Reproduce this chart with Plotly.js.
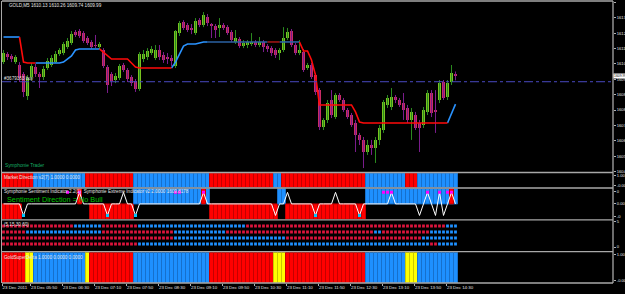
<!DOCTYPE html>
<html><head><meta charset="utf-8">
<script src="https://cdn.plot.ly/plotly-3.0.1.min.js"></script>
<style>html,body{margin:0;padding:0;background:#000;overflow:hidden;}#chart{width:625px;height:294px;}</style>
</head><body><div id="chart"></div>
<script>
// ---------------- DATA ----------------
const openP = [1610.81,1611.28,1611.17,1610.81,1610.64,1610.11,1608.82,1609.94,1610.52,1610.11,
1609.94,1610.46,1610.64,1610.81,1611.28,1611.34,1611.69,1611.93,1612.57,1612.63,
1612.51,1612.22,1611.99,1611.81,1611.69,1611.52,1610.52,1610.11,1609.76,1609.88,
1610.64,1610.35,1609.94,1609.70,1609.23,1610.99,1611.11,1611.34,1611.05,1611.52,
1611.22,1611.11,1611.05,1610.58,1612.51,1613.16,1612.98,1612.81,1612.51,1613.27,
1612.98,1613.45,1613.04,1612.92,1612.81,1612.98,1612.86,1612.57,1611.99,1612.16,
1611.75,1611.81,1611.87,1611.99,1611.81,1611.99,1611.75,1611.63,1611.52,1611.34,
1611.52,1612.22,1612.63,1611.81,1611.34,1611.40,1610.46,1610.64,1610.05,1609.17,
1607.01,1607.42,1608.59,1607.59,1608.88,1608.59,1608.00,1607.71,1607.24,1606.54,
1606.25,1605.54,1605.95,1605.78,1606.25,1606.83,1608.30,1608.18,1608.76,1608.59,
1608.41,1608.12,1607.42,1607.71,1607.24,1607.12,1607.89,1609.00,1608.00,1608.59,
1609.64,1608.76,1609.64,1610.13];
const highP = [1611.52,1611.40,1611.28,1611.22,1610.81,1610.23,1610.05,1610.76,1610.70,1610.23,
1610.58,1611.05,1611.22,1611.46,1611.63,1611.99,1612.22,1612.63,1612.69,1612.75,
1612.63,1612.34,1612.10,1612.40,1611.99,1611.63,1610.64,1610.23,1610.17,1610.70,
1610.76,1610.46,1610.05,1609.82,1611.40,1611.52,1611.63,1611.75,1611.81,1611.81,
1611.40,1611.34,1611.22,1612.69,1613.22,1613.27,1613.10,1613.04,1613.39,1613.39,
1613.74,1613.63,1613.10,1613.04,1613.39,1613.10,1612.98,1612.69,1612.69,1612.28,
1612.10,1612.10,1612.51,1612.10,1612.28,1612.10,1611.87,1611.75,1611.63,1611.63,
1612.86,1612.81,1612.75,1611.93,1612.10,1611.58,1610.76,1610.76,1610.17,1609.29,
1607.53,1608.59,1609.17,1609.00,1609.00,1608.71,1608.12,1607.83,1607.42,1606.66,
1606.42,1606.25,1606.25,1606.42,1607.12,1608.59,1608.88,1609.29,1608.88,1608.71,
1609.00,1608.30,1608.12,1607.89,1607.42,1608.18,1609.17,1609.17,1609.17,1609.76,
1609.76,1609.76,1610.64,1610.26];
const lowP = [1610.70,1610.93,1610.81,1610.70,1609.64,1608.76,1608.59,1609.76,1609.94,1609.29,
1609.76,1610.35,1610.52,1610.76,1611.17,1611.22,1611.58,1611.81,1612.28,1612.22,
1611.93,1611.81,1611.58,1611.63,1611.58,1610.46,1609.00,1609.41,1609.58,1609.76,
1610.23,1609.64,1609.41,1609.06,1609.12,1610.81,1610.93,1611.22,1610.93,1610.93,
1610.76,1610.70,1610.58,1610.46,1612.34,1612.69,1612.57,1612.45,1612.40,1612.86,
1612.86,1612.92,1612.22,1612.22,1612.28,1612.69,1612.40,1611.99,1611.87,1611.63,
1611.63,1611.63,1611.75,1611.69,1611.69,1611.40,1611.40,1611.17,1611.05,1610.93,
1611.40,1612.10,1611.69,1611.22,1611.22,1610.23,1610.35,1609.82,1608.88,1606.83,
1606.83,1607.24,1607.53,1607.48,1608.47,1607.89,1607.48,1607.01,1605.54,1605.95,
1604.60,1605.37,1605.37,1604.90,1605.95,1606.66,1608.12,1608.00,1608.41,1608.18,
1607.42,1607.24,1606.25,1606.83,1605.54,1606.95,1607.71,1607.59,1606.66,1608.41,
1608.59,1608.59,1609.47,1609.74];
const closeP = [1611.34,1611.11,1610.99,1611.11,1609.88,1609.06,1609.88,1610.58,1610.11,1609.94,
1610.40,1610.87,1611.05,1611.28,1611.52,1611.87,1612.04,1612.45,1612.40,1612.34,
1612.04,1611.93,1611.69,1611.75,1611.87,1610.58,1609.47,1609.70,1609.99,1610.58,
1610.35,1609.82,1609.58,1609.23,1611.28,1611.28,1611.46,1611.58,1611.52,1611.11,
1610.93,1610.99,1610.87,1612.63,1613.10,1612.81,1612.69,1612.69,1613.22,1612.98,
1613.57,1613.10,1612.92,1612.69,1612.98,1612.81,1612.51,1612.10,1612.22,1611.75,
1611.93,1611.99,1611.99,1611.81,1611.99,1611.69,1611.58,1611.34,1611.22,1611.52,
1612.22,1612.57,1611.81,1611.34,1611.52,1610.35,1610.64,1609.94,1609.06,1607.01,
1607.42,1608.41,1607.71,1608.88,1608.59,1608.00,1607.59,1607.12,1606.54,1606.25,
1605.54,1605.95,1605.78,1606.25,1606.95,1608.47,1608.71,1608.76,1608.59,1608.30,
1608.00,1607.42,1607.89,1606.95,1606.95,1608.00,1609.00,1607.83,1607.89,1609.58,
1608.71,1609.58,1610.17,1609.99];

const _ = null;
const traderUp = [1612.28,1612.28,1612.28,1612.28,1612.28,_,_,_,1610.76,1610.76,
1610.76,1610.76,1610.76,1610.76,1610.76,1610.81,1610.99,1611.17,1611.52,1611.58,
1611.58,1611.58,1611.58,1611.58,1611.58,_,_,_,_,_,
_,_,_,_,_,_,_,_,_,_,
_,_,1610.46,1610.81,1611.28,1611.75,1611.87,1611.87,1611.87,1611.93,
1611.99,1611.99,_,_,_,_,_,_,_,_,
_,_,_,_,_,_,_,_,_,_,
_,_,_,_,_,_,_,_,_,_,
_,_,_,_,_,_,_,_,_,_,
_,_,_,_,_,_,_,_,_,_,
_,_,_,_,_,_,_,_,_,_,
_,1607.24,1607.83,1608.35];
const traderDn = [_,_,_,_,1612.28,1610.81,1610.76,1610.76,1610.76,_,
_,_,_,_,_,_,_,_,_,_,
_,_,_,_,1611.58,1611.40,1611.17,1610.99,1610.99,1610.99,
1610.99,1610.99,1610.76,1610.52,1610.46,1610.46,1610.46,1610.46,1610.46,1610.46,
1610.46,1610.46,1610.46,_,_,_,_,_,_,_,
_,_,_,_,_,_,_,_,_,_,
_,_,_,_,_,_,_,_,_,_,
_,_,_,_,1611.99,1611.46,1611.46,1610.93,1610.05,1608.30,
1608.30,1608.30,1608.30,1608.30,1608.30,1608.30,1608.30,1608.30,1607.89,1607.30,
1607.24,1607.24,1607.24,1607.24,1607.24,1607.24,1607.24,1607.24,1607.24,1607.24,
1607.24,1607.24,1607.24,1607.24,1607.24,1607.24,1607.24,1607.24,1607.24,1607.24,
1607.24,1607.24,_,_];
const traderUpDim = [_,_,_,_,_,_,_,_,_,_,
_,_,_,_,_,_,_,_,_,_,
_,_,_,_,_,_,_,_,_,_,
_,_,_,_,_,_,_,_,_,_,
_,_,_,_,_,_,_,_,_,_,
_,1611.99,1611.99,1611.99,1611.99,1611.99,1611.99,1611.99,1611.99,1611.99,
1611.99,1611.99,1611.99,1611.99,1611.99,1611.99,1611.99,_,_,1611.99,
1611.99,1611.99,1611.99,1611.99,1611.99,_,_,_,_,_,
_,_,_,_,_,_,_,_,_,_,
_,_,_,_,_,_,_,_,_,_,
_,_,_,_,_,_,_,_,_,_,
_,_,_,_];
const traderDnDim = [_,_,_,_,_,_,_,_,_,_,
_,_,_,_,_,_,_,_,_,_,
_,_,_,_,_,_,_,_,_,_,
_,_,_,_,_,_,_,_,_,_,
_,_,_,_,_,_,_,_,_,_,
_,_,_,_,_,_,_,_,_,_,
_,_,_,_,_,_,1611.99,1611.99,1611.99,1611.99,
_,_,_,_,_,_,_,_,_,_,
_,_,_,_,_,_,_,_,_,_,
_,_,_,_,_,_,_,_,_,_,
_,_,_,_,_,_,_,_,_,_,
_,_,_,_];

const orderPrice = 1609.66;
const priceTicks = [1614.30,1613.40,1612.50,1611.60,1610.70,1609.80,1608.90,1608.00,1607.10,1606.20,1605.30,1604.40];

// Market Direction: 1 = blue, 0 = red
const marketDir = [0,0,0,0,0,0,0,0,1,1, 1,1,1,1,1,1,1,1,1,1, 1,0,0,0,0,0,0,0,0,0,
0,0,0,1,1,1,1,1,1,1, 1,1,1,1,1,1,1,1,1,1, 1,1,0,0,0,0,0,0,0,0,
0,0,0,0,0,0,0,0,1,1, 0,0,0,0,0,0,0,0,0,0, 0,0,0,0,0,0,0,0,0,0,
0,1,1,1,1,1,1,1,1,1, 1,0,0,0,1,1,1,1,1,1, 1,1,1,1];
// Sentiment histogram: +1 blue up, -1 red down, 0 none
const sentiment = [-1,-1,-1,-1,-1,0,0,0,0,0, 0,0,0,0,0,0,0,0,0,0, 0,0,-1,-1,-1,-1,-1,-1,-1,-1,
-1,-1,-1,1,1,1,1,1,1,1, 1,1,1,1,1,1,1,1,1,1, 1,1,-1,-1,-1,-1,-1,-1,-1,-1,
-1,-1,-1,-1,-1,-1,-1,-1,-1,1, 1,-1,-1,-1,-1,-1,-1,-1,-1,-1, -1,-1,-1,-1,-1,-1,-1,-1,-1,-1,
-1,1,1,1,1,1,1,1,1,1, 1,1,1,1,1,1,1,1,1,1, 1,1,1,1];
const extremeRed = [0,0,0,0,0,0,0,0,0,0, 0,0,0,0,0,0,0,0,0,1, 0,0,0,0,0,0,0,0,0,0,
0,0,0,0,0,0,0,0,0,0, 0,0,0,0,0,0,0,0,0,0, 1,0,0,0,0,0,0,0,0,0,
0,0,0,0,0,0,0,0,0,0, 0,0,0,0,0,0,0,0,0,0, 0,0,0,0,0,0,0,0,0,0,
0,0,0,0,0,0,0,0,0,0, 0,0,0,0,0,0,0,0,0,0, 0,0,1,0];
const extremeLine = [0,0,0,0,0,-0.75,0,0,0,0, 0,0,0,0,0,0,0,0,0,0.75, 0,0,0,0,0,0,-0.75,0,0,0,
0.75,0,0,-0.75,0,0,0,0,0,0, 0,0,0,0,0,0,0,0,0,0, 0.75,0,0,0,0,0,0,0,0,0,
0,0,0,0,0,0,0,0,-0.75,0, 0,0.75,0,0,0,0,0,0,-0.75,0, 0,0,0,0.75,0,0,0,0,0,-0.75,
0,0,0,0,0,0,0,0.75,0,0, 0,0,0,0,-0.75,0,0.75,0,-0.75,0.75, -0.75,0,0.75,0];
const extremeTop = [16,19,43,44,50,95,96,97,106,109,111,112];
const extremeBottom = [5,26,33,78,89];

// Multi-timeframe dots (5,15,30,60): 1 = blue, 0 = red
const dotsM5 = [0,0,0,0,0,0,0,0,0,0, 0,0,0,0,0,0,0,0,1,1, 1,1,1,1,1,0,0,0,0,0,
0,0,0,0,1,1,1,1,1,1, 1,1,1,1,1,1,1,1,1,1, 1,1,1,1,1,1,1,1,1,1,
1,0,0,0,0,0,0,0,0,0, 0,0,0,0,0,0,0,0,0,0, 0,0,0,0,0,0,0,0,0,0,
0,0,0,0,0,0,0,0,0,0, 0,0,0,0,0,0,0,0,0,0, 0,1,1,1];
const dotsM15 = [0,0,0,0,0,0,1,1,1,1, 1,1,1,1,1,1,1,1,1,1, 1,1,1,1,1,0,0,0,0,0,
0,0,0,0,0,0,0,0,0,0, 0,0,0,1,1,1,1,1,1,1, 1,1,1,1,1,1,0,0,0,0,
0,0,0,0,0,0,0,0,0,0, 0,0,0,0,0,0,0,0,0,0, 0,0,0,0,0,0,0,0,0,0,
0,0,0,1,1,0,0,0,0,0, 0,0,0,0,0,0,0,1,1,1, 1,1,1,1];
const dotsM30 = [0,0,0,0,0,0,0,0,0,0, 0,0,0,0,0,0,0,0,0,0, 0,0,0,0,0,0,0,0,0,0,
0,0,0,0,0,0,0,0,0,0, 0,0,0,1,1,1,1,1,1,1, 1,1,1,1,1,1,1,1,1,1,
1,1,1,1,1,1,1,1,1,1, 1,0,0,0,0,0,0,0,0,0, 0,0,0,0,0,0,0,0,0,0,
0,0,0,0,0,0,0,0,0,0, 0,0,0,0,0,1,1,1,1,1, 1,1,1,1];
const dotsH1 = [0,0,0,0,0,0,0,0,0,0, 0,0,0,0,0,0,0,0,0,0, 0,0,0,0,0,0,0,0,0,0,
0,0,0,0,1,1,1,1,1,1, 1,1,1,1,1,1,1,1,1,1, 1,1,1,1,1,1,1,1,1,1,
1,1,1,1,1,1,1,1,1,1, 1,1,1,1,1,1,1,1,1,1, 1,1,1,1,1,1,1,1,1,1,
1,1,1,1,1,1,1,1,1,1, 1,1,1,1,1,1,1,0,0,1, 1,1,1,1];
// GoldSuperDelta: 0 = red, 1 = blue, 2 = yellow
const superDelta = [0,0,0,0,0,0,2,2,1,1, 1,1,1,1,1,1,1,1,1,1, 1,2,0,0,0,0,0,0,0,0,
0,0,0,1,1,1,1,1,1,1, 1,1,1,1,1,1,1,1,1,1, 1,1,0,0,0,0,0,0,0,0,
0,0,0,0,0,0,0,0,2,2, 2,0,0,0,0,0,0,0,0,0, 0,0,0,0,0,0,0,0,0,0,
0,1,1,1,1,1,1,1,1,1, 1,2,2,2,1,1,1,1,1,1, 1,1,1,1];

const tickLabels = ['23 Dec 2011','23 Dec 05:50','23 Dec 06:30','23 Dec 07:10','23 Dec 07:50','23 Dec 08:30','23 Dec 09:10','23 Dec 09:50','23 Dec 10:30','23 Dec 11:10','23 Dec 11:50','23 Dec 12:30','23 Dec 13:10','23 Dec 13:50','23 Dec 14:30'];
const tickBars = [0,7,15,23,31,39,47,55,63,71,79,87,95,103,111];

// ---------------- BUILD ----------------
const N = openP.length;
const idx = openP.map((_v,i)=>i);
const W=625,H=294,ML=2,MR=12,MT=1,MB=11;
const PW=W-ML-MR, PH=H-MT-MB;
const fy = py => (H-MB-py)/PH;
const fx = px => (px-ML)/PW;

const BULL='#78c21f', BEAR='#c92c66', BULLW='#2a8a1e', BEARW='#7a1c8c';
const isBull = idx.map(i=>closeP[i]>=openP[i]);
function wick(sel){ const xs=[],ys=[]; idx.forEach(i=>{ if(isBull[i]===sel){xs.push(i,i,null);ys.push(lowP[i],highP[i],null);} }); return {xs,ys}; }
const wb=wick(true), wr=wick(false);

const traces=[];
traces.push({type:'scatter',mode:'lines',x:wb.xs,y:wb.ys,line:{color:BULLW,width:1},hoverinfo:'skip'});
traces.push({type:'scatter',mode:'lines',x:wr.xs,y:wr.ys,line:{color:BEARW,width:1},hoverinfo:'skip'});
traces.push({type:'bar',x:idx,base:idx.map(i=>Math.min(openP[i],closeP[i])),
  y:idx.map(i=>Math.max(Math.abs(closeP[i]-openP[i]),0.04)),width:0.75,
  marker:{color:idx.map(i=>isBull[i]?BULL:BEAR),line:{width:0}},hoverinfo:'skip'});
const tl=(arr,c)=>({type:'scatter',mode:'lines',x:idx,y:arr,line:{color:c,width:1.6},connectgaps:false,hoverinfo:'skip'});
traces.push(tl(traderUpDim,'#2b62a3'));
traces.push(tl(traderDnDim,'#9c1414'));
traces.push(tl(traderUp,'#2a93ff'));
traces.push(tl(traderDn,'#ff0a0a'));

const RED='#ff0000',REDL='#c40000',BLUE='#1e90ff',BLUEL='#1670cc',YEL='#ffff00',YELL='#c8c800';
traces.push({type:'bar',x:idx,y:marketDir.map(()=>1),base:0,width:1,yaxis:'y2',
  marker:{color:marketDir.map(v=>v?BLUE:RED),line:{color:marketDir.map(v=>v?BLUEL:REDL),width:1}},hoverinfo:'skip'});
traces.push({type:'bar',x:idx,y:sentiment.map(v=>v===0?null:v),base:0,width:1,yaxis:'y3',
  marker:{color:sentiment.map(v=>v>0?BLUE:RED),line:{color:sentiment.map(v=>v>0?BLUEL:REDL),width:1}},hoverinfo:'skip'});
traces.push({type:'bar',x:idx,y:extremeRed.map(v=>v?1:null),base:0,width:1,yaxis:'y3',
  marker:{color:RED,line:{color:REDL,width:1}},hoverinfo:'skip'});
traces.push({type:'scatter',mode:'lines',x:idx,y:extremeLine,yaxis:'y3',line:{color:'#ffffff',width:1},hoverinfo:'skip'});
traces.push({type:'scatter',mode:'markers',x:extremeTop,y:extremeTop.map(()=>0.75),yaxis:'y3',
  marker:{symbol:'square',size:3,color:'#ff00ff'},hoverinfo:'skip'});
traces.push({type:'scatter',mode:'markers',x:extremeBottom,y:extremeBottom.map(()=>-0.75),yaxis:'y3',
  marker:{symbol:'square',size:3,color:'#00c8ff'},hoverinfo:'skip'});
[[dotsM5,4],[dotsM15,3],[dotsM30,2],[dotsH1,1]].forEach(([arr,row])=>{
  traces.push({type:'scatter',mode:'markers',x:idx,y:arr.map(()=>row),yaxis:'y4',
    marker:{symbol:'square',size:2.8,color:arr.map(v=>v?'#1e90ff':'#dc143c'),line:{width:0}},hoverinfo:'skip'});
});
const sdC=[RED,BLUE,YEL], sdL=[REDL,BLUEL,YELL];
traces.push({type:'bar',x:idx,y:superDelta.map(()=>1),base:0,width:1,yaxis:'y5',
  marker:{color:superDelta.map(v=>sdC[v]),line:{color:superDelta.map(v=>sdL[v]),width:1}},hoverinfo:'skip'});

const TXT='#e4e4e4', FF='Liberation Sans, Arial, sans-serif';
const axBase = {side:'right',anchor:'x',showgrid:false,zeroline:false,showline:false,ticks:'outside',ticklen:2,
  tickcolor:'#b0b0b0',tickfont:{family:FF,size:4.1,color:TXT},fixedrange:true,automargin:false};

const sep = py => ({type:'line',xref:'paper',yref:'paper',x0:0,x1:1,y0:fy(py),y1:fy(py),line:{color:'#a8a8a8',width:1.3}});
const ann = (px,py,text,opt={}) => Object.assign({xref:'paper',yref:'paper',x:fx(px),y:fy(py),xanchor:'left',yanchor:'middle',
  text,showarrow:false,borderpad:0,font:{family:FF,size:4.6,color:TXT}},opt);

const layout = {
  width:W,height:H,margin:{l:ML,r:MR,t:MT,b:MB},paper_bgcolor:'#000',plot_bgcolor:'#000',
  showlegend:false,barmode:'overlay',bargap:0,hovermode:false,
  xaxis:{range:[-0.375,152.375],anchor:'y5',showgrid:false,zeroline:false,showline:false,
    tickvals:tickBars.map(b=>b===0?-0.35:b-0.25),ticktext:tickLabels,ticks:'outside',ticklen:2,tickcolor:'#b0b0b0',
    tickangle:0,ticklabelposition:'outside right',tickfont:{family:FF,size:4.4,color:TXT},fixedrange:true,automargin:false},
  yaxis:Object.assign({},axBase,{domain:[fy(172),1],range:[1604.37,1614.39],tickvals:priceTicks,ticktext:priceTicks.map(v=>String(Math.floor(v)))}),
  yaxis2:Object.assign({},axBase,{domain:[fy(187.5),fy(173)],range:[0,1],tickvals:[0.85,0.12],ticktext:['1.00','-0.00']}),
  yaxis3:Object.assign({},axBase,{domain:[fy(219.3),fy(188.5)],range:[-1,1],tickvals:[0.8,0,-0.8],ticktext:['0','0.00','-0']}),
  yaxis4:Object.assign({},axBase,{domain:[fy(251),fy(220.3)],range:[-0.167,4.95],tickvals:[4.7,0.5],ticktext:['5','0']}),
  yaxis5:Object.assign({},axBase,{domain:[0,fy(252.3)],range:[0,1],tickvals:[0.92,0.07],ticktext:['1.00','-0.00']}),
  shapes:[
    {type:'line',xref:'paper',yref:'y',x0:0,x1:1,y0:orderPrice,y1:orderPrice,line:{color:'#4848c0',width:1,dash:'dashdot'}},
    {type:'line',xref:'paper',yref:'paper',x0:0,x1:1,y0:1,y1:1,line:{color:'#a8a8a8',width:1.3}},
    {type:'line',xref:'paper',yref:'paper',x0:0,x1:1,y0:0,y1:0,line:{color:'#a8a8a8',width:1.3}},
    {type:'line',xref:'paper',yref:'paper',x0:fx(1.5),x1:fx(1.5),y0:0,y1:1,line:{color:'#a8a8a8',width:1}},
    {type:'line',xref:'paper',yref:'paper',x0:1,x1:1,y0:0,y1:1,line:{color:'#a8a8a8',width:1.3}},
    sep(172.5),sep(188),sep(219.8),sep(251.6)
  ],
  annotations:[
    ann(8,5,`GOLD,M5 ${openP[N-1].toFixed(2)} ${highP[N-1].toFixed(2)} ${lowP[N-1].toFixed(2)} ${closeP[N-1].toFixed(2)}`),
    ann(3,79,'#3679163 buy'),
    ann(4,165,'Symphonie Trader',{font:{family:FF,size:4.8,color:'#16b064'}}),
    ann(3,177,'Market Direction v2(7) 1.0000 0.0000'),
    ann(3,192,'Symphonie Sentiment Indicator 2.2(1)  Symphonie Extreme Indicator v2 2.0000 1609.8178'),
    ann(6,199,'Sentiment Direction = No Bull',{font:{family:FF,size:7.3,color:'#00c000'}}),
    ann(3,224,'(5,15,30,60)'),
    ann(3,257,'GoldSuperDelta 1.0000 0.0000 0.0000'),
    {xref:'paper',yref:'paper',x:fx(613.3),y:fy(75.5),xanchor:'left',yanchor:'middle',text:closeP[N-1].toFixed(2),showarrow:false,
     bgcolor:'#ffffff',borderpad:0,font:{family:FF,size:3.4,color:'#000'}}
  ]
};
Plotly.newPlot('chart',traces,layout,{staticPlot:true,displayModeBar:false});
</script></body></html>
